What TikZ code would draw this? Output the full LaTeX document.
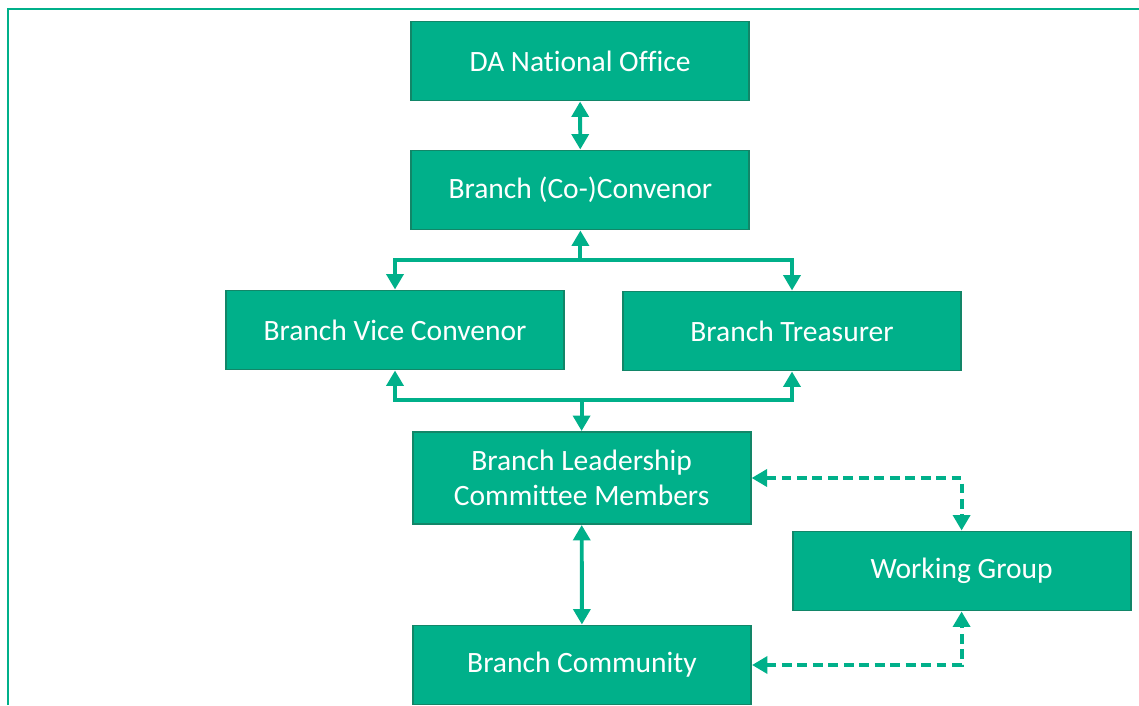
\documentclass[tikz,border=0pt]{standalone}
\usepackage{fontspec}
\setmainfont{Carlito}[Ligatures=NoCommon]
\usetikzlibrary{arrows.meta}
\definecolor{dagreen}{RGB}{0,176,138}
\definecolor{daedge}{RGB}{18,134,104}
\begin{document}
\begin{tikzpicture}[
   unit/.style={draw=daedge, line width=1.4pt, fill=dagreen, text=white,
      minimum width=8.45cm, minimum height=1.975cm, align=center,
      font=\fontsize{21}{25}\selectfont},
   link/.style={draw=dagreen, line width=2.8pt,
      {Triangle[width=12pt,length=11pt]}-{Triangle[width=12pt,length=11pt]}},
   uplink/.style={draw=dagreen, line width=2.8pt, -{Triangle[width=12pt,length=11pt]}},
   loose/.style={link, dash pattern=on 7pt off 4pt}
]
   \useasboundingbox (0,0) rectangle (28.475,17.625);
   \draw[dagreen, line width=2pt] (0.2,0) -- (0.2,17.4) -- (28.475,17.4);
   \node[unit] (office)    at (14.50,16.10) {DA National Office};
   \node[unit] (convenor)  at (14.51,12.875) {Branch (Co-)Convenor};
   \node[unit] (vice)      at ( 9.875,9.375) {Branch Vice Convenor};
   \node[unit] (treasurer) at (19.80,9.35) {Branch Treasurer};
   \node[unit, minimum height=2.3cm] (leaders) at (14.54,5.675) {Branch Leadership\\Committee Members};
   \node[unit] (wgroup)    at (24.04,3.35) {Working Group};
   \node[unit] (community) at (14.55,1.00) {Branch Community};
   \coordinate (split) at (14.51,11.125);
   \coordinate (merge) at (14.54,7.625);
   \draw[link]   (office) -- (convenor);
   \draw[uplink] (split) -- (convenor.south);
   \draw[link]   (vice.north) |- (split) -| (treasurer.north);
   \draw[link]   (vice.south) |- (merge) -| (treasurer.south);
   \draw[uplink] (merge) -- (leaders.north);
   \draw[link]   (leaders) -- (community);
   \draw[loose]  (leaders.east) -| (wgroup.north);
   \draw[loose]  (community.east) -| (wgroup.south);
\end{tikzpicture}
\end{document}
